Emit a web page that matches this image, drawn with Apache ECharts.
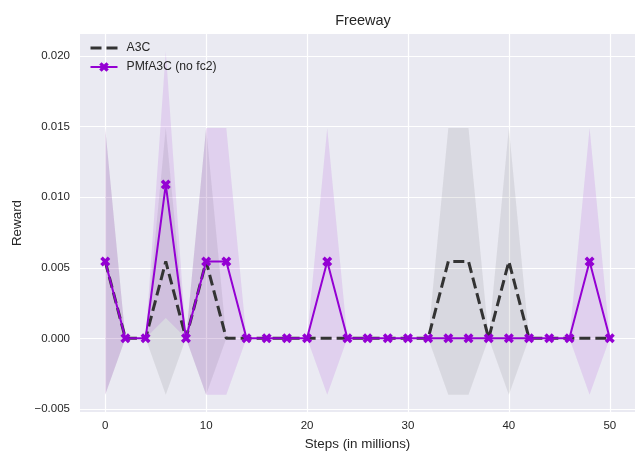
<!DOCTYPE html>
<html>
<head>
<meta charset="utf-8">
<script src="https://cdn.jsdelivr.net/npm/echarts@6/dist/echarts.min.js"></script>
<style>
  html, body { margin: 0; padding: 0; background: #ffffff; }
  #chart { width: 635px; height: 456px; }
</style>
</head>
<body>
<div id="chart"></div>
<script>
// Training steps (in millions), one evaluation every 2M steps
const steps = [0, 2, 4, 6, 8, 10, 12, 14, 16, 18, 20, 22, 24, 26, 28, 30, 32, 34, 36, 38, 40, 42, 44, 46, 48, 50];

// A3C: mean reward and standard deviation across runs
const a3cMean = [0.00545, 0, 0, 0.00545, 0, 0.00545, 0, 0, 0, 0, 0, 0, 0, 0, 0, 0, 0, 0.00545, 0.00545, 0, 0.00545, 0, 0, 0, 0, 0];
const a3cStd  = [0.00945, 0, 0, 0.00945, 0, 0.00945, 0, 0, 0, 0, 0, 0, 0, 0, 0, 0, 0, 0.00945, 0.00945, 0, 0.00945, 0, 0, 0, 0, 0];

// PMfA3C (no fc2): mean reward and standard deviation across runs
const pmfMean = [0.00545, 0, 0, 0.0109, 0, 0.00545, 0.00545, 0, 0, 0, 0, 0.00545, 0, 0, 0, 0, 0, 0, 0, 0, 0, 0, 0, 0, 0.00545, 0];
const pmfStd  = [0.00945, 0, 0, 0.00945, 0, 0.00945, 0.00945, 0, 0, 0, 0, 0.00945, 0, 0, 0, 0, 0, 0, 0, 0, 0, 0, 0, 0, 0.00945, 0];

const seriesNames = ['A3C', 'PMfA3C (no fc2)'];

const FONT = 'Liberation Sans, Arial, sans-serif';
const BG = '#EAEAF2';
const TEXT = '#262626';
const DARK = '#333333';
const VIOLET = '#9400D3';
const DASH = [11, 5];
// filled "X" marker
const X_MARK = 'path://M1,0 L2,1 L3,0 L4,1 L3,2 L4,3 L3,4 L2,3 L1,4 L0,3 L1,2 L0,1 Z';

// mean ± std band drawn as one closed polygon through the axis scales
function bandSeries(name, mean, std, fill) {
  return {
    type: 'custom',
    name: name,
    silent: true,
    z: 1,
    coordinateSystem: 'cartesian2d',
    data: steps.map((s, i) => [s, mean[i] - std[i], mean[i] + std[i]]),
    encode: { x: 0, y: [1, 2] },
    renderItem: function (params, api) {
      if (params.dataIndex !== 0) return;
      const upper = [];
      const lower = [];
      for (let i = 0; i < steps.length; i++) {
        upper.push(api.coord([steps[i], mean[i] + std[i]]));
        lower.push(api.coord([steps[i], mean[i] - std[i]]));
      }
      return {
        type: 'polygon',
        shape: { points: upper.concat(lower.reverse()) },
        style: { fill: fill, stroke: null }
      };
    }
  };
}

const chart = echarts.init(document.getElementById('chart'), null, { renderer: 'canvas' });

chart.setOption({
  animation: false,
  backgroundColor: '#ffffff',
  textStyle: { fontFamily: FONT, color: TEXT },
  title: {
    text: 'Freeway',
    left: 358,
    top: 8,
    textAlign: 'center',
    textStyle: { fontSize: 14.5, fontWeight: 'normal', color: TEXT, fontFamily: FONT }
  },
  legend: {
    data: [
      { name: seriesNames[0], itemStyle: { opacity: 0 }, lineStyle: { type: DASH, width: 3, color: DARK } },
      { name: seriesNames[1] }
    ],
    orient: 'vertical',
    left: 89,
    top: 42,
    itemWidth: 27,
    itemHeight: 12,
    itemGap: 7,
    padding: 0,
    textStyle: { fontSize: 12.2, color: TEXT, padding: [0, 0, 0, 4], fontFamily: FONT }
  },
  grid: {
    left: 80,
    top: 34,
    width: 557,
    height: 381,
    show: true,
    backgroundColor: BG,
    borderWidth: 0,
    containLabel: false
  },
  xAxis: {
    type: 'value',
    min: -2.5,
    max: 52.5,
    splitNumber: 5,
    minInterval: 10,
    maxInterval: 10,
    name: 'Steps (in millions)',
    nameLocation: 'middle',
    nameGap: 26,
    nameTextStyle: { fontSize: 13.4, color: TEXT, fontFamily: FONT },
    axisLine: { show: false },
    axisTick: { show: false },
    axisLabel: {
      showMinLabel: false,
      showMaxLabel: false,
      margin: 8,
      fontSize: 11.5,
      color: TEXT,
      fontFamily: FONT,
      formatter: v => String(Math.round(v))
    },
    splitLine: { show: true, showMinLine: false, showMaxLine: false, lineStyle: { color: '#ffffff', width: 1.2 } }
  },
  yAxis: {
    type: 'value',
    min: -0.00522,
    max: 0.02157,
    splitNumber: 5,
    minInterval: 0.005,
    maxInterval: 0.005,
    name: 'Reward',
    nameLocation: 'middle',
    nameGap: 53,
    nameTextStyle: { fontSize: 13.4, color: TEXT, fontFamily: FONT },
    axisLine: { show: false },
    axisTick: { show: false },
    axisLabel: {
      showMinLabel: false,
      showMaxLabel: false,
      margin: 10,
      fontSize: 11.5,
      color: TEXT,
      fontFamily: FONT,
      formatter: v => (v < -1e-9 ? '\u2212' : '') + Math.abs(v).toFixed(3)
    },
    splitLine: { show: true, showMinLine: false, showMaxLine: false, lineStyle: { color: '#ffffff', width: 1.2 } }
  },
  series: [
    bandSeries('A3C spread', a3cMean, a3cStd, 'rgba(40, 40, 40, 0.09)'),
    bandSeries('PMfA3C spread', pmfMean, pmfStd, 'rgba(148, 0, 211, 0.11)'),
    {
      type: 'line',
      name: seriesNames[0],
      data: steps.map((s, i) => [s, a3cMean[i]]),
      symbol: 'none',
      z: 3,
      lineStyle: { color: DARK, width: 3, type: DASH },
      itemStyle: { color: DARK }
    },
    {
      type: 'line',
      name: seriesNames[1],
      data: steps.map((s, i) => [s, pmfMean[i]]),
      symbol: X_MARK,
      symbolSize: 10,
      z: 4,
      lineStyle: { color: VIOLET, width: 2 },
      itemStyle: { color: VIOLET }
    }
  ]
});
</script>
</body>
</html>
